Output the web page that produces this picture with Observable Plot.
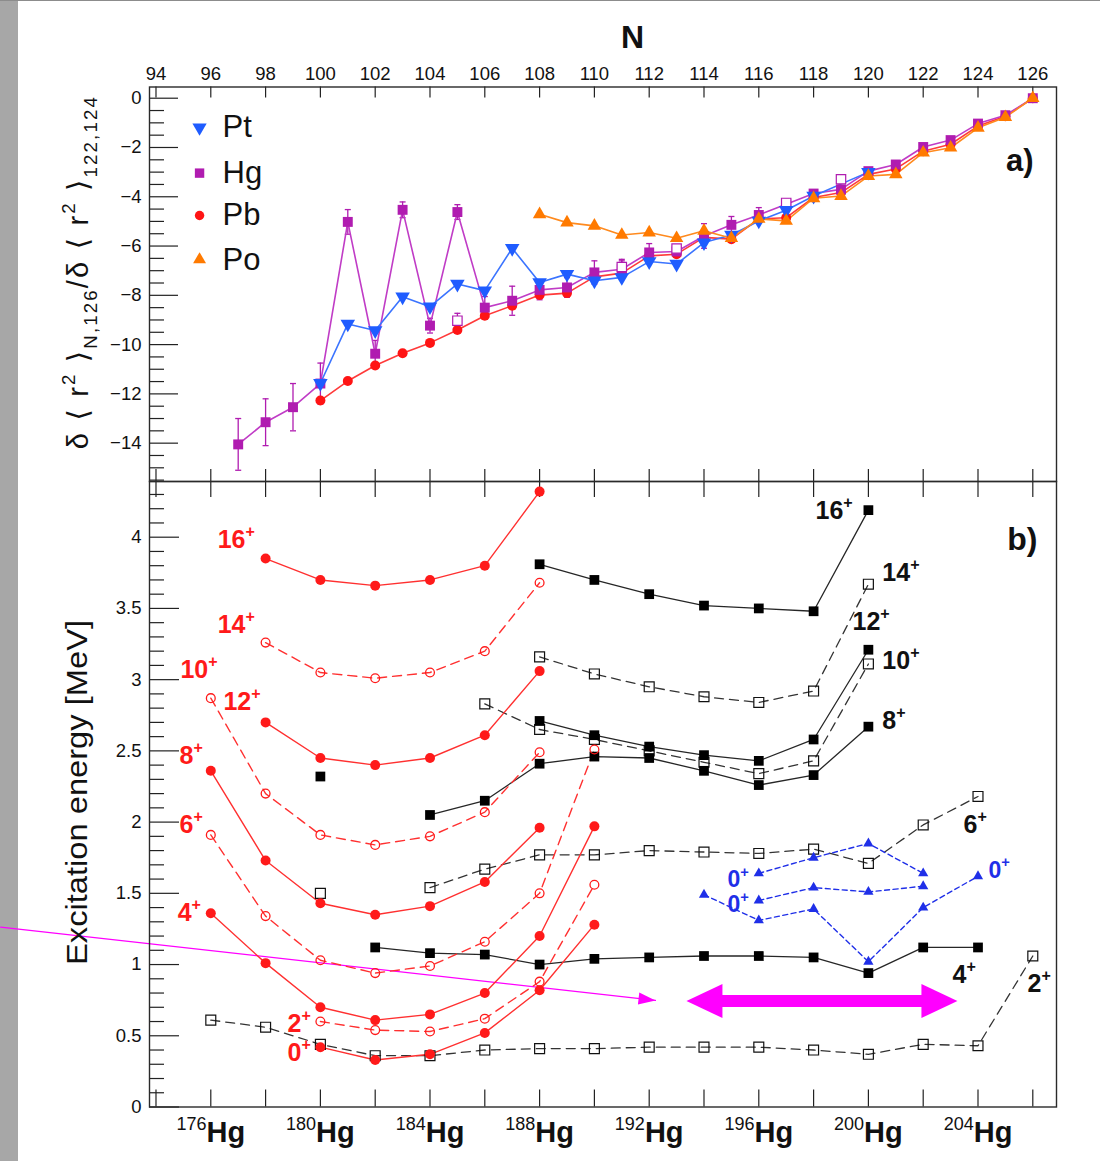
<!DOCTYPE html>
<html><head><meta charset="utf-8">
<script src="https://cdn.jsdelivr.net/npm/d3@7"></script>
<script src="https://cdn.jsdelivr.net/npm/@observablehq/plot@0.6"></script>
<style>
html,body{margin:0;padding:0;background:#fff;}
#wrap{position:relative;width:1100px;height:1161px;overflow:hidden;background:#fff;}
#strip{position:absolute;left:0;top:0;width:18px;height:1161px;background:#a7a7a7;}
#topline{position:absolute;left:0;top:0;width:1100px;height:1px;background:#8c8c8c;}
#pa{position:absolute;left:0;top:0;}
#pb{position:absolute;left:0;top:479px;}
</style></head>
<body><div id="wrap"><div id="strip"></div><div id="topline"></div><div id="pa"></div><div id="pb"></div></div>
<script>
// ---------------- ticks ----------------
const Nticks = [94,96,98,100,102,104,106,108,110,112,114,116,118,120,122,124,126];
const Aticks = [174,176,178,180,182,184,186,188,190,192,194,196,198,200,202,204,206];
const HgLabelA = [176,180,184,188,192,196,200,204];
const aYmajor = [0,-2,-4,-6,-8,-10,-12,-14];
const aYminor = d3.range(0,32).filter(i => i % 4 !== 0).map(i => -i*0.5);
const bYmajor = [0,0.5,1,1.5,2,2.5,3,3.5,4];
const bYminor = d3.range(0,44).filter(i => i % 5 !== 0).map(i => i/10);

// ---------------- panel a: charge radii ----------------
const N_Pt = [100,101,102,103,104,105,106,107,108,109,110,111,112,113,114,115,116,117,118,120];
const Pt   = [-11.57,-9.16,-9.43,-8.06,-8.46,-7.54,-7.81,-6.09,-7.48,-7.14,-7.41,-7.27,-6.63,-6.73,-5.86,-5.55,-4.98,-4.55,-3.97,-3.00];

const N_Hg  = [97,98,99,100,101,102,103,104,105,106,107,108,109,110,111,112,113,114,115,116,117,118,119,120,121,122,123,124,125,126];
const Hg    = [-14.05,-13.15,-12.54,-11.58,-5.02,-10.37,-4.53,-9.23,-4.62,-8.50,-8.22,-7.78,-7.68,-7.07,-6.94,-6.26,-6.22,-5.59,-5.14,-4.74,-4.30,-3.87,-3.70,-2.96,-2.69,-1.98,-1.70,-1.03,-0.69,0];
const HgErr = [1.05,0.95,0.96,0.83,0.50,0.54,0.32,0.30,0.30,0.45,0.59,0.40,0.40,0.47,0.40,0.36,0.20,0.50,0.34,0.30,0.20,0.15,0.10,0.10,0.10,0.10,0.10,0.10,0.05,0];
const N_HgIso   = [105,111,113,117,119];
const HgIso     = [-9.03,-6.85,-6.10,-4.25,-3.29];
const HgIsoErr  = [0.30,0.25,0.15,0.15,0.10];

const N_Pb = [100,101,102,103,104,105,106,107,108,109,110,111,112,113,114,115,116,117,118,119,120,121,122,123,124,125,126];
const Pb   = [-12.27,-11.48,-10.85,-10.35,-9.93,-9.41,-8.83,-8.42,-7.99,-7.91,-7.25,-7.10,-6.40,-6.33,-5.65,-5.72,-4.90,-4.85,-4.03,-3.83,-3.09,-2.87,-2.15,-1.87,-1.13,-0.73,0];

const N_Po = [108,109,110,111,112,113,114,115,116,117,118,119,120,121,122,123,124,125,126];
const Po   = [-4.71,-5.05,-5.18,-5.55,-5.45,-5.68,-5.38,-5.68,-4.90,-4.98,-4.06,-3.97,-3.16,-3.09,-2.21,-2.01,-1.20,-0.77,0];

const legendKeys = ["Pt","Hg","Pb","Po"];
const legendN = 95.59, legendTextN = 96.43;
const legendV = [-1.19,-3.04,-4.76,-6.55];

// ---------------- panel b: excitation energies (x = Hg mass number) ----------------
const A_r16 = [178,180,182,184,186,188];         const E_r16 = [3.85,3.70,3.66,3.70,3.80,4.32];
const A_r14 = [178,180,182,184,186,188];         const E_r14 = [3.26,3.05,3.01,3.05,3.20,3.68];
const A_r12 = [178,180,182,184,186,188];         const E_r12 = [2.70,2.45,2.40,2.45,2.61,3.06];
const A_r10 = [176,178,180,182,184,186,188];     const E_r10 = [2.87,2.20,1.91,1.84,1.90,2.07,2.49];
const A_r8  = [176,178,180,182,184,186,188];     const E_r8  = [2.36,1.73,1.43,1.35,1.41,1.58,1.96];
const A_r6  = [176,178,180,182,184,186,188,190]; const E_r6  = [1.91,1.34,1.03,0.94,0.99,1.16,1.50,2.51];
const A_r4  = [176,178,180,182,184,186,188,190]; const E_r4  = [1.36,1.01,0.70,0.61,0.65,0.80,1.20,1.97];
const A_r2  = [180,182,184,186,188,190];         const E_r2  = [0.60,0.54,0.53,0.62,0.88,1.56];
const A_r0  = [180,182,184,186,188,190];         const E_r0  = [0.42,0.33,0.37,0.52,0.82,1.28];
const A_k16 = [188,190,192,194,196,198,200];     const E_k16 = [3.81,3.70,3.60,3.52,3.50,3.48,4.19];
const A_k14 = [188,190,192,194,196,198,200];     const E_k14 = [3.16,3.04,2.95,2.88,2.84,2.92,3.67];
const A_k12 = [186,188,190,192,194,196,198,200]; const E_k12 = [2.83,2.65,2.58,2.50,2.42,2.34,2.43,3.11];
const A_k10 = [188,190,192,194,196,198,200];     const E_k10 = [2.71,2.61,2.53,2.47,2.43,2.58,3.21];
const A_k8  = [184,186,188,190,192,194,196,198,200]; const E_k8 = [2.05,2.15,2.41,2.46,2.45,2.36,2.26,2.33,2.67];
const A_k6  = [184,186,188,190,192,194,196,198,200,202,204]; const E_k6 = [1.54,1.67,1.77,1.77,1.80,1.79,1.78,1.81,1.71,1.98,2.18];
const A_k4  = [182,184,186,188,190,192,194,196,198,200,202,204]; const E_k4 = [1.12,1.08,1.07,1.00,1.04,1.05,1.06,1.06,1.05,0.94,1.12,1.12];
const A_k2  = [176,178,180,182,184,186,188,190,192,194,196,198,200,202,204,206];
const E_k2  = [0.61,0.56,0.44,0.36,0.36,0.40,0.41,0.41,0.42,0.42,0.42,0.40,0.37,0.44,0.43,1.06];
const A_kF  = [180]; const E_kF = [2.32];
const A_kO  = [180]; const E_kO = [1.50];
const A_b1 = [194,196,198,200,202,204]; const E_b1 = [1.49,1.31,1.39,1.02,1.40,1.62];
const A_b2 = [196,198,200,202];         const E_b2 = [1.45,1.54,1.51,1.55];
const A_b3 = [196,198,200,202];         const E_b3 = [1.64,1.75,1.85,1.64];

const redLabTxt = ["16{^+}","14{^+}","10{^+}","12{^+}","8{^+}","6{^+}","4{^+}","2{^+}","0{^+}"];
const redLabA   = [176.25,176.25,174.89,176.46,174.86,174.86,174.79,178.80,178.80];
const redLabE   = [3.921,3.324,3.015,2.784,2.411,1.920,1.309,0.523,0.326];
const blkLabTxt = ["16{^+}","14{^+}","12{^+}","10{^+}","8{^+}","6{^+}","4{^+}","2{^+}"];
const blkLabA   = [198.07,200.51,199.42,200.51,200.51,203.47,203.07,205.81];
const blkLabE   = [4.131,3.696,3.352,3.078,2.657,1.920,0.867,0.804];
const bluLabTxt = ["0{^+}","0{^+}","0{^+}"];
const bluLabA   = [194.86,194.86,204.38];
const bluLabE   = [1.545,1.370,1.611];

const thinArrowA = [168.33, 192.23]; const thinArrowE = [1.263, 0.748];
const bigArrowA  = [193.36, 203.25]; const bigArrowE  = 0.744;
const bigShaftA  = [194.6, 202.0];

// ---------------- styling ----------------
const FONT = "'Liberation Sans', Arial, Helvetica, 'DejaVu Sans', sans-serif";
const C = {pt:"#1f5cff", ptLine:"#3b74ff", hg:"#b01cb0", hgLine:"#c03cc6", pb:"#ff1414", pbLine:"#ff3a3a",
           po:"#ff7a00", poLine:"#ff8a1e", red:"#ff1a1a", redLine:"#ff3030", blk:"#000", blkLine:"#262626",
           blue:"#1f2fe8", mag:"#ff00ff", axis:"#222"};
const PX_A = 27.4, PX_E = 142.45;

const zip = (xs, ys, es) => xs.map((x, i) => ({x, y: ys[i], e: es ? es[i] : 0}));
const sqrt3 = Math.sqrt(3);
const triDown = {draw(ctx, size){ const y = -Math.sqrt(size/(sqrt3*3)); ctx.moveTo(0,-2*y); ctx.lineTo(-sqrt3*y, y); ctx.lineTo(sqrt3*y, y); ctx.closePath(); }};
const polySym = pts => ({draw(ctx){ ctx.moveTo(pts[0][0],pts[0][1]); for (const p of pts.slice(1)) ctx.lineTo(p[0],p[1]); ctx.closePath(); }});
const headR = polySym([[0,0],[-36,-17],[-36,17]]);
const headL = polySym([[0,0],[36,-17],[36,17]]);
const thinAng = Math.atan2((thinArrowE[0]-thinArrowE[1])*PX_E, (thinArrowA[1]-thinArrowA[0])*PX_A);
const headThin = polySym([[0,0],[-17,-6],[-17,6]].map(([x,y]) => [x*Math.cos(thinAng)-y*Math.sin(thinAng), x*Math.sin(thinAng)+y*Math.cos(thinAng)]));

const FL = 149, FR = 1056, frameW = FR - FL;
const aTop = 86.5, aBot = 481, aFrameH = aBot - aTop;
const bTop = 481, bBot = 1106.5, bFrameH = bBot - bTop;

// ---------------- panel a ----------------
const ptData = zip(N_Pt, Pt), hgData = zip(N_Hg, Hg, HgErr), hgIsoData = zip(N_HgIso, HgIso, HgIsoErr);
const pbData = zip(N_Pb, Pb), poData = zip(N_Po, Po);
const hgBars = hgData.filter(d => d.e > 0.12).concat(hgIsoData);
const legSym = [triDown, "square", "circle", "triangle"];
const legCol = [C.pt, C.hg, C.pb, C.po];
const legR = [5.3, 5.3, 4.7, 4.8];

const plotA = Plot.plot({
  width: 1100, height: aBot + 2,
  marginLeft: FL, marginRight: 1100 - FR, marginTop: aTop, marginBottom: 2,
  style: {background: "transparent", fontFamily: FONT, fontSize: "18.5px", color: "#111"},
  x: {domain: [93.763, 126.865], axis: "top", ticks: Nticks, tickSize: 0, tickPadding: 7, label: null},
  y: {domain: [-15.556, 0.455], axis: "left", ticks: aYmajor, tickSize: 0, tickPadding: 8, label: null},
  marks: [
    Plot.tickX(Nticks, {x: d => d, insetBottom: aFrameH - 11, stroke: C.axis, strokeWidth: 1.2}),
    Plot.tickX(Nticks, {x: d => d, insetTop: aFrameH - 12, stroke: C.axis, strokeWidth: 1.2}),
    Plot.tickY(aYmajor, {y: d => d, insetRight: frameW - 29, stroke: C.axis, strokeWidth: 1.2}),
    Plot.tickY(aYminor, {y: d => d, insetRight: frameW - 15, stroke: C.axis, strokeWidth: 1.2}),
    Plot.ruleX(hgBars, {x: "x", y1: d => d.y - d.e, y2: d => d.y + d.e, stroke: C.hg, strokeWidth: 1.3}),
    Plot.link(hgBars, {x1: d => d.x - 0.11, x2: d => d.x + 0.11, y1: d => d.y + d.e, y2: d => d.y + d.e, stroke: C.hg, strokeWidth: 1.3}),
    Plot.link(hgBars, {x1: d => d.x - 0.11, x2: d => d.x + 0.11, y1: d => d.y - d.e, y2: d => d.y - d.e, stroke: C.hg, strokeWidth: 1.3}),
    Plot.line(pbData, {x: "x", y: "y", stroke: C.pbLine, strokeWidth: 1.6}),
    Plot.line(hgData, {x: "x", y: "y", stroke: C.hgLine, strokeWidth: 1.6}),
    Plot.line(ptData, {x: "x", y: "y", stroke: C.ptLine, strokeWidth: 1.6}),
    Plot.line(poData, {x: "x", y: "y", stroke: C.poLine, strokeWidth: 1.6}),
    Plot.dot(pbData, {x: "x", y: "y", r: 5, fill: C.pb}),
    Plot.dot(hgData, {x: "x", y: "y", symbol: "square", r: 5.6, fill: C.hg}),
    Plot.dot(hgIsoData, {x: "x", y: "y", symbol: "square", r: 5.3, fill: "white", stroke: C.hg, strokeWidth: 1.2}),
    Plot.dot(ptData, {x: "x", y: "y", symbol: triDown, r: 5.4, fill: C.pt}),
    Plot.dot(poData, {x: "x", y: "y", symbol: "triangle", r: 5, fill: C.po}),
    ...legendKeys.flatMap((k, i) => [
      Plot.dot([k], {x: legendN, y: legendV[i], symbol: legSym[i], r: legR[i], fill: legCol[i]}),
      Plot.text([k], {x: legendTextN, y: legendV[i], text: d => d, textAnchor: "start", lineAnchor: "middle", fontSize: 31, fill: "#111"})
    ]),
    Plot.text(["N"], {x: 111.39, frameAnchor: "top", dy: -39.5, text: d => d, lineAnchor: "bottom", fontSize: 32, fontWeight: "bold", fill: "#111"}),
    Plot.text(["a)"], {frameAnchor: "top-right", dx: -23, dy: 84, text: d => d, textAnchor: "end", lineAnchor: "bottom", fontSize: 31, fontWeight: "bold", fill: "#111"}),
    Plot.text(["δ ⟨ r{^2} ⟩{_N,126}/δ ⟨ r{^2} ⟩{_122,124}"], {frameAnchor: "left", y: -7.1, dx: -62, rotate: -90, text: d => d, textAnchor: "middle", lineAnchor: "bottom", fontSize: 29, fill: "#111"}),
    Plot.frame({stroke: "#2a2a2a", strokeWidth: 1.4})
  ]
});

// ---------------- panel b ----------------
const lineK  = (A, E) => Plot.line(zip(A, E), {x: "x", y: "y", stroke: C.blkLine, strokeWidth: 1.3});
const lineKd = (A, E) => Plot.line(zip(A, E), {x: "x", y: "y", stroke: "#333", strokeWidth: 1.3, strokeDasharray: "9,6"});
const lineR  = (A, E) => Plot.line(zip(A, E), {x: "x", y: "y", stroke: C.redLine, strokeWidth: 1.4});
const lineRd = (A, E) => Plot.line(zip(A, E), {x: "x", y: "y", stroke: C.redLine, strokeWidth: 1.4, strokeDasharray: "9,6"});
const lineB  = (A, E) => Plot.line(zip(A, E), {x: "x", y: "y", stroke: C.blue, strokeWidth: 1.4, strokeDasharray: "5,3.5"});
const dotK  = (A, E) => Plot.dot(zip(A, E), {x: "x", y: "y", symbol: "square", r: 5.5, fill: C.blk});
const dotKo = (A, E) => Plot.dot(zip(A, E), {x: "x", y: "y", symbol: "square", r: 5.6, fill: "none", stroke: "#111", strokeWidth: 1.2});
const dotR  = (A, E) => Plot.dot(zip(A, E), {x: "x", y: "y", r: 5, fill: C.red});
const dotRo = (A, E) => Plot.dot(zip(A, E), {x: "x", y: "y", r: 4.4, fill: "none", stroke: C.red, strokeWidth: 1.3});
const dotB  = (A, E) => Plot.dot(zip(A, E), {x: "x", y: "y", symbol: "triangle", r: 3.8, fill: C.blue});
const labels = (T, A, E, fill, fs) => Plot.text(T.map((t, i) => ({t, x: A[i], y: E[i]})), {x: "x", y: "y", text: "t", textAnchor: "start", lineAnchor: "bottom", fontSize: fs, fontWeight: "bold", fill});

const plotB = Plot.plot({
  width: 1100, height: 1161 - 479,
  marginLeft: FL, marginRight: 1100 - FR, marginTop: bTop - 479, marginBottom: 1161 - bBot,
  style: {background: "transparent", fontFamily: FONT, fontSize: "18.5px", color: "#111"},
  x: {domain: [173.763, 206.865], axis: null},
  y: {domain: [0, 4.391], axis: "left", ticks: bYmajor, tickSize: 0, tickPadding: 8, label: null, tickFormat: d => String(d)},
  marks: [
    Plot.tickX(Aticks, {x: d => d, insetBottom: bFrameH - 16, stroke: C.axis, strokeWidth: 1.2}),
    Plot.tickX(Aticks, {x: d => d, insetTop: bFrameH - 17, stroke: C.axis, strokeWidth: 1.2}),
    Plot.tickY(bYmajor, {y: d => d, insetRight: frameW - 30, stroke: C.axis, strokeWidth: 1.2}),
    Plot.tickY(bYminor, {y: d => d, insetRight: frameW - 15, stroke: C.axis, strokeWidth: 1.2}),
    Plot.line(zip(thinArrowA, thinArrowE), {x: "x", y: "y", stroke: C.mag, strokeWidth: 1.2}),
    Plot.dot([0], {x: thinArrowA[1], y: thinArrowE[1], symbol: headThin, r: 5, fill: C.mag, stroke: "none"}),
    Plot.link([0], {x1: bigShaftA[0], x2: bigShaftA[1], y1: bigArrowE, y2: bigArrowE, stroke: C.mag, strokeWidth: 12}),
    Plot.dot([0], {x: bigArrowA[0], y: bigArrowE, symbol: headL, r: 5, fill: C.mag, stroke: "none"}),
    Plot.dot([0], {x: bigArrowA[1], y: bigArrowE, symbol: headR, r: 5, fill: C.mag, stroke: "none"}),
    lineKd(A_k2, E_k2), lineKd(A_k6, E_k6), lineKd(A_k12, E_k12), lineKd(A_k14, E_k14),
    lineK(A_k4, E_k4), lineK(A_k8, E_k8), lineK(A_k10, E_k10), lineK(A_k16, E_k16),
    lineRd(A_r2, E_r2), lineRd(A_r6, E_r6), lineRd(A_r10, E_r10), lineRd(A_r14, E_r14),
    lineR(A_r0, E_r0), lineR(A_r4, E_r4), lineR(A_r8, E_r8), lineR(A_r12, E_r12), lineR(A_r16, E_r16),
    lineB(A_b1, E_b1), lineB(A_b2, E_b2), lineB(A_b3, E_b3),
    dotKo(A_k2, E_k2), dotKo(A_k6, E_k6), dotKo(A_k12, E_k12), dotKo(A_k14, E_k14), dotKo(A_kO, E_kO),
    dotK(A_k4, E_k4), dotK(A_k8, E_k8), dotK(A_k10, E_k10), dotK(A_k16, E_k16), dotK(A_kF, E_kF),
    dotRo(A_r2, E_r2), dotRo(A_r6, E_r6), dotRo(A_r10, E_r10), dotRo(A_r14, E_r14),
    dotR(A_r0, E_r0), dotR(A_r4, E_r4), dotR(A_r8, E_r8), dotR(A_r12, E_r12), dotR(A_r16, E_r16),
    dotB(A_b1, E_b1), dotB(A_b2, E_b2), dotB(A_b3, E_b3),
    labels(redLabTxt, redLabA, redLabE, C.red, 25),
    labels(blkLabTxt, blkLabA, blkLabE, "#111", 25),
    labels(bluLabTxt, bluLabA, bluLabE, C.blue, 23),
    Plot.text(HgLabelA, {x: d => d, text: d => `{'${d}}Hg`, frameAnchor: "bottom", dy: 35, lineAnchor: "bottom", fontSize: 29, fontWeight: "bold", fill: "#111"}),
    Plot.text(["b)"], {frameAnchor: "top-right", dx: -19, dy: 68, text: d => d, textAnchor: "end", lineAnchor: "bottom", fontSize: 32, fontWeight: "bold", fill: "#111"}),
    Plot.text(["Excitation energy [MeV]"], {frameAnchor: "left", y: 2.208, dx: -63, rotate: -90, text: d => d, textAnchor: "middle", lineAnchor: "bottom", fontSize: 30, fill: "#111", fontFamily: "'Liberation Sans Narrow', 'Liberation Sans', Arial, sans-serif"}),
    Plot.frame({stroke: "#2a2a2a", strokeWidth: 1.4})
  ]
});

document.getElementById("pa").appendChild(plotA);
document.getElementById("pb").appendChild(plotB);

// ---------------- rich text (super/subscripts) ----------------
const NS = "http://www.w3.org/2000/svg";
function richText(svg) {
  svg.querySelectorAll("text").forEach(t => {
    const s = t.textContent;
    if (!/\{[\^_']/.test(s)) return;
    const fs = parseFloat(getComputedStyle(t).fontSize) || 16;
    const parts = [];
    const re = /\{([\^_'])([^}]*)\}/g;
    let last = 0, m;
    while ((m = re.exec(s))) {
      if (m.index > last) parts.push({k: "", s: s.slice(last, m.index)});
      parts.push({k: m[1], s: m[2]});
      last = re.lastIndex;
    }
    if (last < s.length) parts.push({k: "", s: s.slice(last)});
    t.textContent = "";
    let cur = 0;
    for (const p of parts) {
      const ts = document.createElementNS(NS, "tspan");
      const off = p.k === "_" ? 0.32 * fs : p.k === "'" ? -0.40 * fs : p.k === "^" ? -0.44 * fs : 0;
      ts.setAttribute("dy", (off - cur).toFixed(2)); cur = off;
      if (p.k === "'") { ts.setAttribute("font-size", (0.62 * fs).toFixed(1)); ts.setAttribute("font-weight", "normal"); }
      else if (p.k) ts.setAttribute("font-size", (0.64 * fs).toFixed(1));
      ts.textContent = p.s;
      t.appendChild(ts);
    }
  });
}
richText(plotA);
richText(plotB);
plotB.querySelectorAll("text").forEach(t => {
  if (t.textContent === "Excitation energy [MeV]") { t.setAttribute("textLength", "345"); t.setAttribute("lengthAdjust", "spacingAndGlyphs"); }
});
plotA.querySelectorAll("text").forEach(t => {
  if (t.textContent.startsWith("δ")) { t.setAttribute("textLength", "352"); t.setAttribute("lengthAdjust", "spacing"); }
});
</script></body></html>
